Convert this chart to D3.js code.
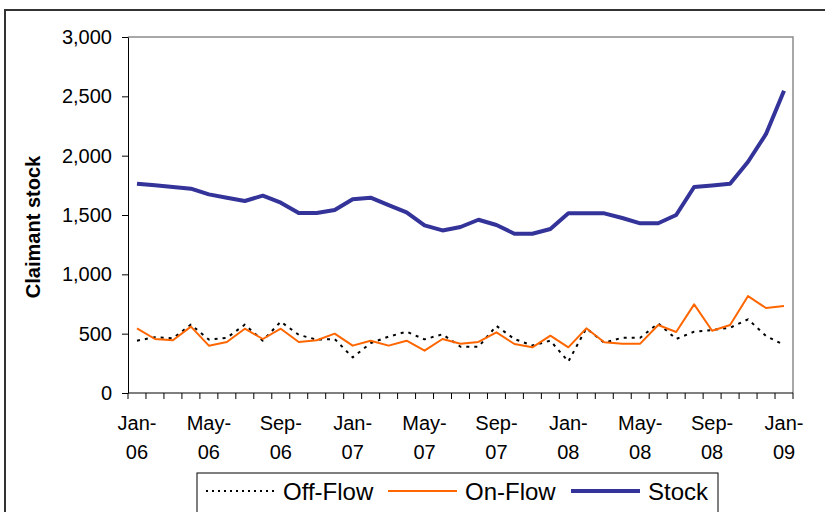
<!DOCTYPE html>
<html>
<head>
<meta charset="utf-8">
<script src="https://cdn.jsdelivr.net/npm/d3@7"></script>
<style>
  body { margin: 0; background: #fff; }
  svg { display: block; font-family: "Liberation Sans", Arial, sans-serif; }
</style>
</head>
<body>
<div id="chart"></div>
<script>
const months = ["Jan-06","Feb-06","Mar-06","Apr-06","May-06","Jun-06","Jul-06","Aug-06","Sep-06","Oct-06","Nov-06","Dec-06",
                "Jan-07","Feb-07","Mar-07","Apr-07","May-07","Jun-07","Jul-07","Aug-07","Sep-07","Oct-07","Nov-07","Dec-07",
                "Jan-08","Feb-08","Mar-08","Apr-08","May-08","Jun-08","Jul-08","Aug-08","Sep-08","Oct-08","Nov-08","Dec-08",
                "Jan-09"];
const offFlow = [441,470,461,576,450,465,576,441,601,490,450,455,300,420,475,517,452,495,390,390,565,455,400,441,265,545,424,466,466,587,455,517,531,550,621,480,405];
const onFlow = [545,455,444,559,399,430,542,455,542,430,444,500,399,441,399,441,357,455,415,430,511,413,385,483,385,545,427,416,416,573,514,747,525,573,817,716,733];
const stock = [1764,1750,1736,1722,1674,1646,1618,1663,1604,1517,1517,1542,1632,1646,1584,1522,1412,1370,1399,1460,1416,1342,1342,1382,1514,1514,1514,1475,1430,1430,1500,1736,1749,1764,1949,2183,2547];
const yTicks = [0,500,1000,1500,2000,2500,3000];
const labelEvery = 4;

const width = 825, height = 512;
const margin = { left: 128, top: 37, right: 32, bottom: 119 };

const svg = d3.select("#chart").append("svg")
    .attr("width", width)
    .attr("height", height);

// outer chart frame (runs off the page right and bottom)
svg.append("rect")
    .attr("x", 5).attr("y", 10)
    .attr("width", width + 20).attr("height", height + 20)
    .attr("fill", "none")
    .attr("stroke", "#333")
    .attr("stroke-width", 2);

const x = d3.scaleBand()
    .domain(d3.range(months.length))
    .range([margin.left, width - margin.right])
    .padding(0);
const y = d3.scaleLinear()
    .domain([0, 3000])
    .range([height - margin.bottom, margin.top]);

const cx = i => x(i) + x.bandwidth() / 2;

// plot area border, top and right
svg.append("path")
    .attr("d", `M${margin.left},${margin.top}H${width - margin.right}V${height - margin.bottom}`)
    .attr("fill", "none")
    .attr("stroke", "#8c8c8c")
    .attr("stroke-width", 1.5);

// y axis
const yAxis = svg.append("g")
    .attr("transform", `translate(${margin.left},0)`)
    .call(d3.axisLeft(y).tickValues(yTicks).tickFormat(d3.format(",")).tickSize(6).tickPadding(10).tickSizeOuter(0));
yAxis.selectAll("text").style("font-size", "20px").style("fill", "#000");
yAxis.selectAll("line, path").attr("stroke", "#000");

svg.append("text")
    .attr("transform", `translate(40,${(margin.top + height - margin.bottom) / 2 + 12}) rotate(-90)`)
    .attr("text-anchor", "middle")
    .style("font-size", "20px")
    .style("font-weight", 700)
    .text("Claimant stock");

// x axis, ticks between categories
const gx = svg.append("g");
gx.append("line")
    .attr("x1", margin.left).attr("x2", width - margin.right)
    .attr("y1", y(0)).attr("y2", y(0))
    .attr("stroke", "#000");
gx.selectAll(".xtick")
    .data(d3.range(months.length + 1))
    .join("line")
        .attr("class", "xtick")
        .attr("x1", d => d < months.length ? x(d) : width - margin.right)
        .attr("x2", d => d < months.length ? x(d) : width - margin.right)
        .attr("y1", y(0))
        .attr("y2", y(0) + 6)
        .attr("stroke", "#000");

const xl = gx.selectAll(".xlabel")
    .data(months.map((m, i) => [m, i]).filter(d => d[1] % labelEvery === 0))
    .join("text")
        .attr("class", "xlabel")
        .attr("text-anchor", "middle")
        .style("font-size", "20px");
xl.append("tspan")
    .attr("x", d => cx(d[1]))
    .attr("y", y(0) + 37)
    .text(d => d[0].split("-")[0] + "-");
xl.append("tspan")
    .attr("x", d => cx(d[1]))
    .attr("y", y(0) + 66)
    .text(d => d[0].split("-")[1]);

// series
const series = [
    { name: "Off-Flow", values: offFlow, color: "#000", width: 2, dash: "3,5" },
    { name: "On-Flow", values: onFlow, color: "#ff6600", width: 2, dash: null },
    { name: "Stock", values: stock, color: "#333399", width: 4, dash: null }
];

const line = d3.line()
    .x((d, i) => cx(i))
    .y(d => y(d));

svg.selectAll(".series")
    .data(series)
    .join("path")
        .attr("class", "series")
        .attr("d", d => line(d.values))
        .attr("fill", "none")
        .attr("stroke", d => d.color)
        .attr("stroke-width", d => d.width)
        .attr("stroke-dasharray", d => d.dash)
        .attr("stroke-linejoin", "round");

// legend
const legend = svg.append("g");
legend.append("rect")
    .attr("x", 197).attr("y", 473)
    .attr("width", 521).attr("height", 60)
    .attr("fill", "#fff")
    .attr("stroke", "#000")
    .attr("stroke-width", 1);

const legendX = [206, 388, 571];
const gl = legend.selectAll(".leg")
    .data(series)
    .join("g")
        .attr("class", "leg")
        .attr("transform", (d, i) => `translate(${legendX[i]},491)`);
gl.append("line")
    .attr("x1", 0).attr("x2", 69)
    .attr("stroke", d => d.color)
    .attr("stroke-width", d => d.width)
    .attr("stroke-dasharray", d => d.dash ? "2,4" : null);
gl.append("text")
    .attr("x", 77)
    .attr("y", 9)
    .style("font-size", "24px")
    .text(d => d.name);
</script>
</body>
</html>
